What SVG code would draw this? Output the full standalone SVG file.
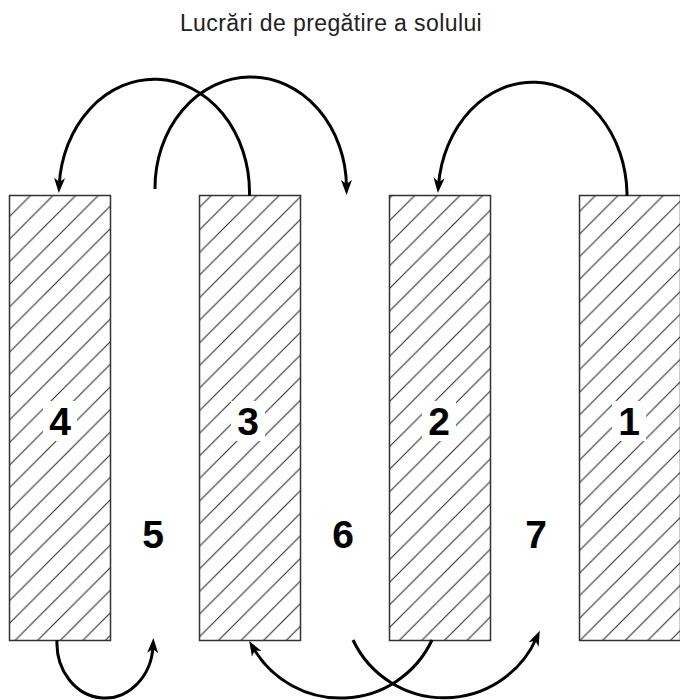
<svg xmlns="http://www.w3.org/2000/svg" width="680" height="700" viewBox="0 0 680 700">
  <defs>
    <pattern id="hatch" patternUnits="userSpaceOnUse" width="22.6" height="22.6">
      <path d="M0,22.6 L22.6,0 M-2,2 L2,-2 M20.6,24.6 L24.6,20.6" stroke="#222" stroke-width="1" fill="none"/>
    </pattern>
    <marker id="arrow" markerUnits="userSpaceOnUse" markerWidth="30" markerHeight="30" viewBox="-20 -10 30 20" refX="-8" refY="0" orient="auto">
      <path d="M0,0 L-15,-5.5 L-11,0 L-15,5.5 Z" fill="#000"/>
    </marker>
    <style>
      .block { fill: url(#hatch); stroke: #333; stroke-width: 1.5; }
      .bg { fill: #fff; stroke: none; }
      .num { font-family: "Liberation Sans", Arial, sans-serif; font-weight: bold; font-size: 39px; fill: #000; text-anchor: middle; }
      .title { font-family: "Liberation Sans", Arial, sans-serif; font-size: 23px; letter-spacing: 0.4px; fill: #222; text-anchor: middle; }
      .conn { fill: none; stroke: #000; stroke-width: 3; }
    </style>
  </defs>
  <rect width="680" height="700" fill="#fff"/>
  <text class="title" x="331" y="31">Lucrări de pregătire a solului</text>

  <g id="block4"><rect class="block" x="9.5" y="195.5" width="101" height="445"/><rect class="bg" x="43" y="401" width="34" height="40"/><text class="num" x="60" y="435">4</text></g>
  <g id="block3"><rect class="block" x="199.5" y="195.5" width="101" height="445"/><rect class="bg" x="231" y="401" width="34" height="40"/><text class="num" x="248" y="435">3</text></g>
  <g id="block2"><rect class="block" x="389.5" y="195.5" width="101" height="445"/><rect class="bg" x="422" y="401" width="34" height="40"/><text class="num" x="439" y="435">2</text></g>
  <g id="block1"><rect class="block" x="579.5" y="195.5" width="101" height="445"/><rect class="bg" x="612" y="401" width="34" height="40"/><text class="num" x="629" y="435">1</text></g>

  <g id="gap5"><text class="num" x="153" y="548">5</text></g>
  <g id="gap6"><text class="num" x="343" y="548">6</text></g>
  <g id="gap7"><text class="num" x="536" y="548">7</text></g>

  <g id="connectors">
    <path class="conn" marker-end="url(#arrow)" d="M249.5,196 L249.5,192 A95.25,113 0 0 0 59.2,185"/>
    <path class="conn" marker-end="url(#arrow)" d="M155,189 A95.75,111 0 0 1 346.5,187"/>
    <path class="conn" marker-end="url(#arrow)" d="M627,196 L627,193 A94.5,114 0 0 0 438.5,185"/>
    <path class="conn" marker-end="url(#arrow)" d="M57,640 A48,55 0 0 0 153,646"/>
    <path class="conn" marker-end="url(#arrow)" d="M432,640 A101,101 0 0 1 253.2,647.8"/>
    <path class="conn" marker-end="url(#arrow)" d="M353,640 A101,101 0 0 0 536.5,638"/>
  </g>
</svg>
